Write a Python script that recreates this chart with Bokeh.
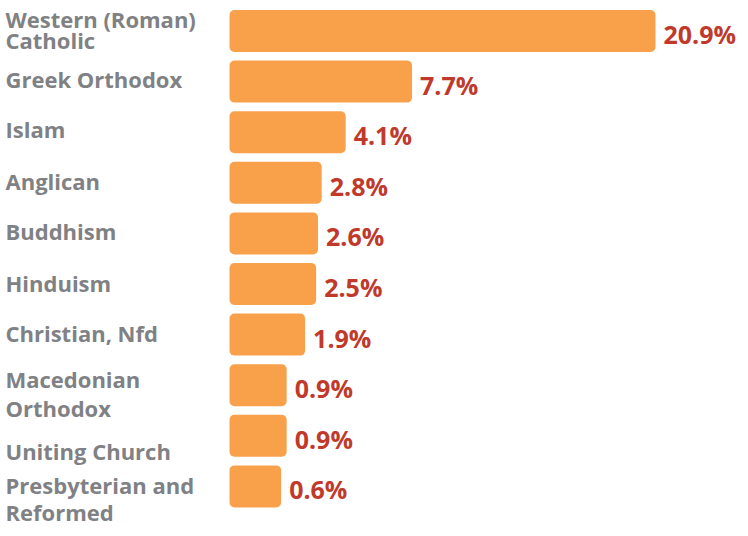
import numpy as np
from bokeh.plotting import figure
from bokeh.models import ColumnDataSource, Range1d
from bokeh.core.properties import value
from bokeh.embed import file_html
from bokeh.resources import INLINE

# ---- data ----
categories = [
    "Western (Roman)\nCatholic",
    "Greek Orthodox",
    "Islam",
    "Anglican",
    "Buddhism",
    "Hinduism",
    "Christian, Nfd",
    "Macedonian\nOrthodox",
    "Uniting Church",
    "Presbyterian and\nReformed",
]
shares = [20.9, 7.7, 4.1, 2.8, 2.6, 2.5, 1.9, 0.9, 0.9, 0.6]

# ---- layout / style ----
W, H = 740, 528
BASE = -2.2          # bars start here (data units)
BAR_LEFT_PX = 229
BAR_MAX_RIGHT_PX = 655
PX = (BAR_MAX_RIGHT_PX - BAR_LEFT_PX) / (max(shares) - BASE)
ROW = 50.6
FIRST_CENTER_PX = 30.5
BAR_PX = 42
LABEL_LEFT_PX = 5

x_start = BASE - BAR_LEFT_PX / PX
x_end = x_start + W / PX
y_top = -FIRST_CENTER_PX / ROW
y_bottom = (H - FIRST_CENTER_PX) / ROW

label_dy = [-1.5, -3, -3.5, -1.5, -2, -1.5, -1.5, 8, 15, 12]
label_lh = [0.70, 1.0, 1.0, 1.0, 1.0, 1.0, 1.0, 0.97, 1.0, 0.92]

pos = list(range(len(categories)))
src = ColumnDataSource(dict(
    pos=pos,
    cat=categories,
    share=shares,
    lab=[f"{s:.1f}%" for s in shares],
    dy=label_dy,
    lh=label_lh,
    left=[BASE] * len(shares),
    xs=[x_start] * len(shares),
))

p = figure(width=W, height=H, output_backend="svg", toolbar_location=None,
           x_range=Range1d(x_start, x_end), y_range=Range1d(y_bottom, y_top),
           min_border=0, min_border_left=0, min_border_right=0,
           min_border_top=0, min_border_bottom=0)
p.axis.visible = False
p.grid.visible = False
p.outline_line_color = None
p.background_fill_color = "white"

p.hbar(y="pos", left="left", right="share", height=BAR_PX / ROW, source=src,
       fill_color="#F9A04B", line_color=None, border_radius=5)

p.text(x="share", y="pos", text="lab", source=src, x_offset=8, y_offset=3,
       text_align="left", text_baseline="middle",
       text_font=value("Open Sans"), text_font_style="bold",
       text_font_size="25px", text_color="#C0392B")

p.text(x="xs", y="pos", text="cat", source=src, x_offset=LABEL_LEFT_PX, y_offset="dy",
       text_align="left", text_baseline="middle",
       text_font=value("Open Sans"), text_font_style="bold",
       text_font_size="22px", text_color="#7F8184", text_line_height="lh")

open("out.html", "w").write(file_html(p, INLINE))
